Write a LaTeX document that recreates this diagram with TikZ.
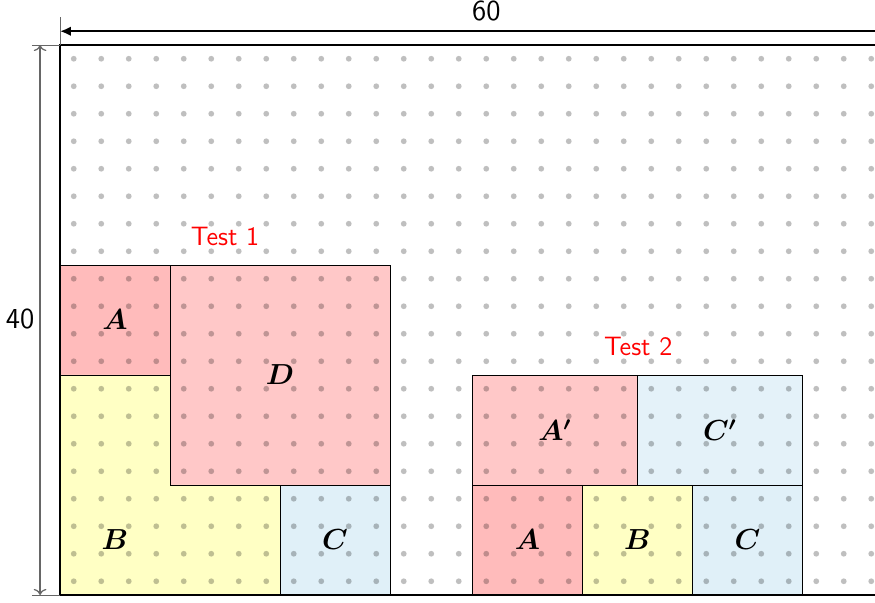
\documentclass[tikz,border=0pt]{standalone}
\usepackage{amsmath,bm}
\usetikzlibrary{arrows.meta}
\definecolor{redA}{HTML}{FFBBBB}
\definecolor{redD}{HTML}{FFC8C8}
\definecolor{yelB}{HTML}{FFFFC4}
\definecolor{bluC}{HTML}{E0F0F8}
\definecolor{bluCp}{HTML}{E4F2F9}
\definecolor{dimgray}{HTML}{666666}
\tikzset{
  piece/.style={draw=black, line width=0.4pt},
  letter/.style={font=\large},
  testlabel/.style={text=red, font=\sffamily\fontsize{11}{13}\selectfont},
  dimlabel/.style={font=\sffamily\large},
  extline/.style={draw=dimgray, line width=0.4pt},
  dotfill/.style={fill=black, fill opacity=0.25},
}
\begin{document}
\begin{tikzpicture}[x=0.2cm, y=0.2cm]
\useasboundingbox (-4.3636,-0.5818) rectangle (59.2727,43.2727);
% pieces (fills)
\fill[redA] (0,16) rectangle (8,24);
\fill[redD] (8,8) rectangle (24,24);
\fill[yelB] (0,0) -- (16,0) -- (16,8) -- (8,8) -- (8,16) -- (0,16) -- cycle;
\fill[bluC] (16,0) rectangle (24,8);
\fill[redA] (30,0) rectangle (38,8);
\fill[yelB] (38,0) rectangle (46,8);
\fill[bluC] (46,0) rectangle (54,8);
\fill[redD] (30,8) rectangle (42,16);
\fill[bluCp] (42,8) rectangle (54,16);
% dots
\foreach \i in {1,3,...,61} {
  \foreach \j in {1,3,...,39} {
    \fill[dotfill] (\i,\j) circle (1.2pt);
  }
}
% outlines
\draw[piece] (0,16) rectangle (8,24);
\draw[piece] (8,8) rectangle (24,24);
\draw[piece] (0,0) -- (16,0) -- (16,8) -- (8,8) -- (8,16) -- (0,16) -- cycle;
\draw[piece] (16,0) rectangle (24,8);
\draw[piece] (30,0) rectangle (38,8);
\draw[piece] (38,0) rectangle (46,8);
\draw[piece] (46,0) rectangle (54,8);
\draw[piece] (30,8) rectangle (42,16);
\draw[piece] (42,8) rectangle (54,16);
% container
\draw[line width=1.2pt] (0,0) rectangle (60,40);
% letters
\node[letter] (lA1) at (4,20) {$\boldsymbol{A}$};
\node[letter] (lD1) at (16,16) {$\boldsymbol{D}$};
\node[letter] (lB1) at (4,4) {$\boldsymbol{B}$};
\node[letter] (lC1) at (20,4) {$\boldsymbol{C}$};
\node[letter] (lA2) at (34,4) {$\boldsymbol{A}$};
\node[letter] (lB2) at (42,4) {$\boldsymbol{B}$};
\node[letter] (lC2) at (50,4) {$\boldsymbol{C}$};
\node[letter] (lAp) at (36,12) {$\boldsymbol{A'}$};
\node[letter] (lCp) at (48,12) {$\boldsymbol{C'}$};
\node[testlabel] (t1) at (12,26.1) {Test 1};
\node[testlabel] (t2) at (42.05,18.1) {Test 2};
% dimensions
\coordinate (hL) at (0,41);
\coordinate (hR) at (62,41);
\draw[line width=1pt, {Latex[length=4.5pt,width=4pt]}-{Latex[length=4.5pt,width=4pt]}] (hL) -- (hR);
\node[dimlabel] (w) at (31,42.5) {60};
\coordinate (vB) at (-1.45,0);
\coordinate (vT) at (-1.45,40);
\draw[dimgray, line width=0.5pt, {To[length=2.5pt]}-{To[length=2.5pt]}] (vB) -- (vT);
\node[dimlabel, anchor=center] (h) at (-2.9,20.1) {40};
\coordinate (e1a) at (0,40);
\coordinate (e1b) at (0,42);
\coordinate (e2a) at (-2.05,40);
\coordinate (e3a) at (-2.05,0);
\coordinate (e3b) at (0,0);
\draw[extline] (e1a) -- (e1b);
\draw[extline] (e2a) -- (e1a);
\draw[extline] (e3a) -- (e3b);
\end{tikzpicture}
\end{document}
